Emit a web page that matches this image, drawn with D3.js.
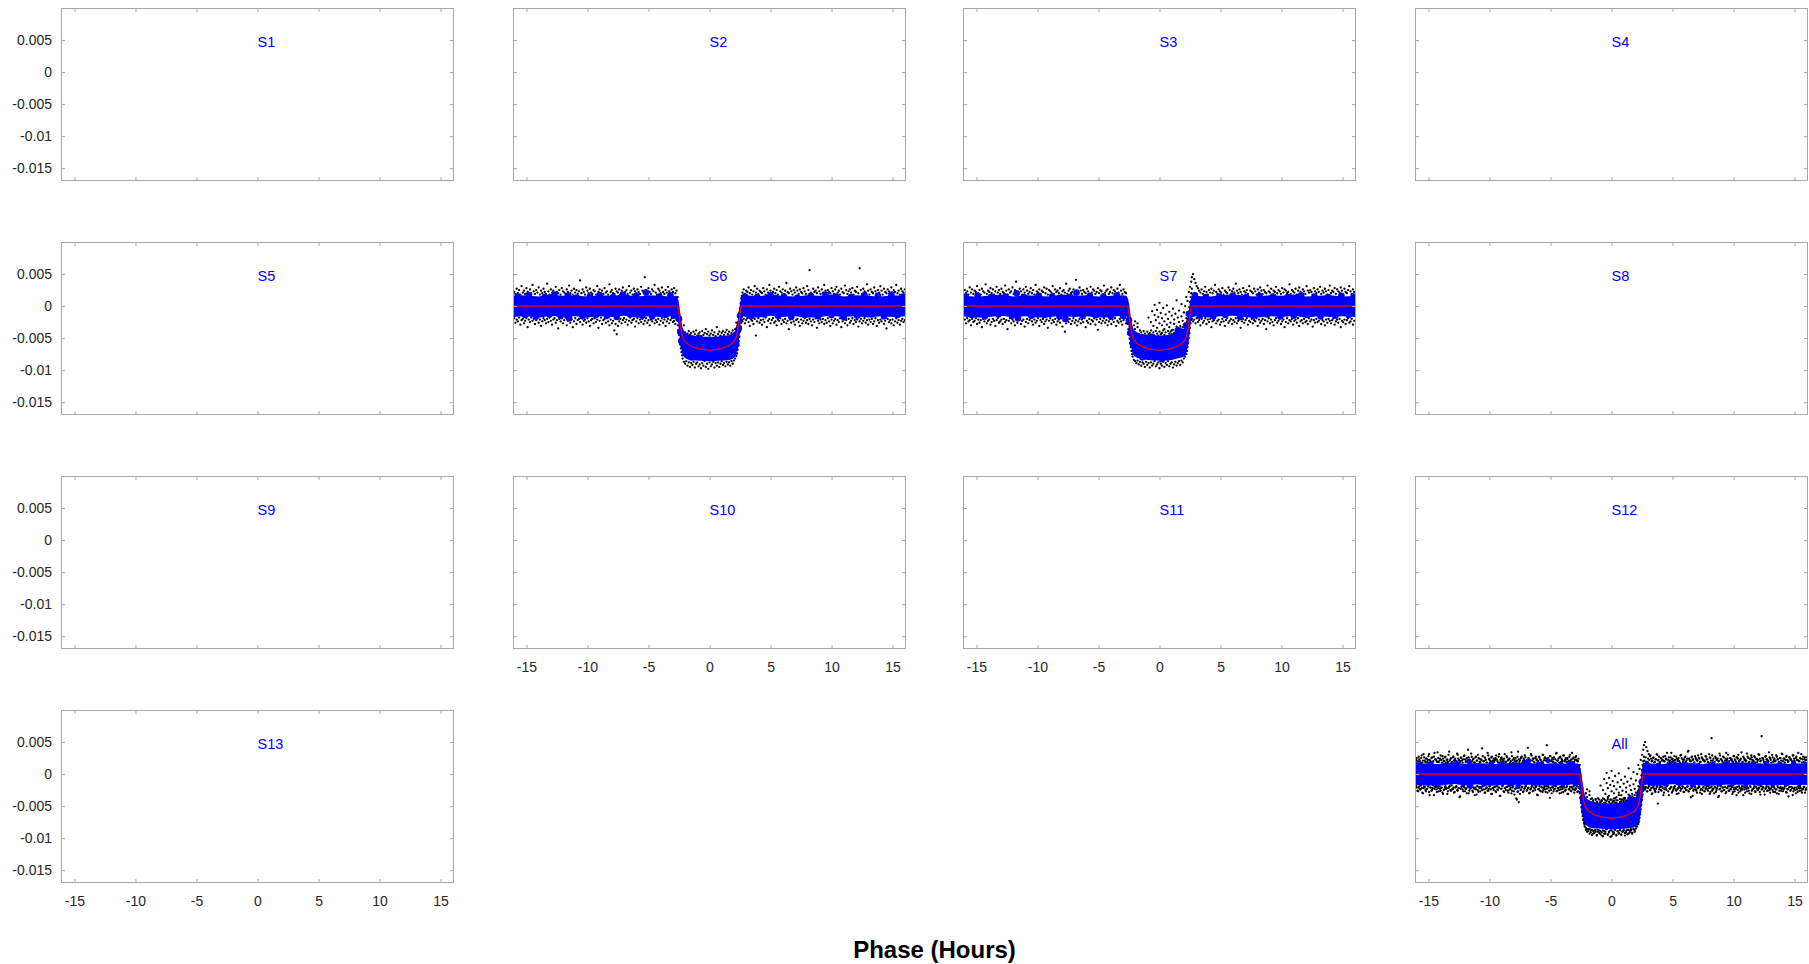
<!DOCTYPE html>
<html>
<head>
<meta charset="utf-8">
<script src="https://cdn.jsdelivr.net/npm/d3@7"></script>
<style>
  body { margin: 0; background: #fff; }
  text { font-family: "Liberation Sans", Arial, sans-serif; }
</style>
</head>
<body>
<svg id="chart" width="1809" height="964"></svg>
<script>
// panels, in reading order; "All" sits in the last cell of row 4
var sessions = ["S1", "S2", "S3", "S4", "S5", "S6", "S7", "S8", "S9", "S10", "S11", "S12", "S13", "All"];

var xTicks = [-15, -10, -5, 0, 5, 10, 15];
var xTickLabels = ["-15", "-10", "-5", "0", "5", "10", "15"];
var yTicks = [0.005, 0, -0.005, -0.01, -0.015];
var yTickLabels = ["0.005", "0", "-0.005", "-0.01", "-0.015"];

// fitted transit model (flux in units of 1e-4)
var modelPhase = [-16.1, -2.62, -2.5, -2.4, -2.3, -2.2, -2.0, -1.7, -1.3, -0.8, -0.4, 0, 0.4, 0.8, 1.3, 1.7, 2.0, 2.2, 2.3, 2.4, 2.5, 2.62, 16.1];
var modelFlux = [0, 0, -12, -27, -40, -48, -55, -60, -64, -67, -68, -69, -68, -67, -64, -60, -55, -48, -40, -27, -12, 0, 0];

// dense core of the binned (blue) points, upper / lower edge (1e-4)
var bandPhase = [-16.1, -15, -14, -13, -12, -11, -10, -9, -8, -7, -6, -5, -4, -3, -2.75,
  -2.6, -2.5, -2.4, -2.3, -2.2, -2.0, -1.6, -1.0, 0, 1.0, 1.6, 2.0, 2.2, 2.3, 2.4, 2.5, 2.6,
  2.75, 3, 4, 5, 6, 7, 8, 9, 10, 11, 12, 13, 14, 15, 16.1];
var s6Hi = [16, 17, 15, 18, 16, 17, 15, 17, 16, 18, 15, 17, 16, 15, 16,
  12, 4, -10, -24, -34, -41, -45, -47, -48, -47, -45, -41, -34, -24, -10, 4, 12,
  16, 17, 15, 18, 16, 15, 17, 16, 18, 15, 17, 16, 15, 17, 16];
var s6Lo = [-17, -16, -18, -15, -17, -16, -18, -16, -17, -15, -18, -16, -17, -16, -17,
  -20, -40, -57, -68, -76, -81, -84, -85, -86, -85, -84, -81, -76, -68, -57, -40, -20,
  -16, -17, -18, -15, -17, -16, -18, -17, -15, -17, -16, -18, -16, -17, -16];
var s7Hi = [17, 15, 16, 18, 15, 17, 16, 15, 18, 16, 17, 15, 16, 17, 16,
  12, 4, -10, -23, -32, -39, -43, -45, -46, -44, -37, -36, -29, -20, -7, 6, 13,
  17, 16, 15, 17, 18, 16, 15, 17, 16, 18, 15, 16, 17, 15, 16];
var s7Lo = [-16, -18, -17, -15, -17, -16, -18, -17, -15, -17, -16, -18, -17, -15, -16,
  -20, -40, -56, -66, -74, -79, -82, -84, -85, -84, -81, -79, -73, -65, -54, -38, -19,
  -17, -16, -18, -16, -15, -17, -18, -16, -17, -15, -18, -16, -17, -16, -17];

// individual binned points standing out of the core [phase, flux 1e-4]
var s6Blue = [[-15.7, 15], [-15.1, -14], [-14.8, 17], [-14.2, -16], [-13.5, 14], [-13.1, -13], [-12.7, 18], [-12.2, -15], [-11.6, 16], [-11.5, -19],
  [-10.9, 13], [-10.4, -16], [-9.8, 15], [-9.3, -14], [-9.0, 17], [-8.4, -15], [-7.9, 14], [-7.6, -17], [-7.1, 18], [-6.5, -13],
  [-6.0, 16], [-5.5, -15], [-5.2, 21], [-4.7, -16], [-4.1, 15], [-3.6, -14], [-3.2, 17], [-2.9, -15],
  [-2.5, -20], [-2.4, -40], [-2.3, -55], [-2.1, -62], [-1.5, -80], [-0.8, -50], [0.3, -82], [1.0, -51], [1.7, -78], [2.2, -60], [2.4, -35], [2.5, -15],
  [2.9, 15], [3.4, -16], [3.9, 14], [4.5, -13], [5.0, 17], [5.6, -15], [6.1, 15], [6.7, -17], [7.2, 13], [7.8, -14],
  [8.3, 16], [8.9, -16], [9.5, 18], [10.0, -14], [10.4, 15], [11.0, -17], [11.6, 14], [12.1, -15], [12.7, 17], [13.3, -13],
  [13.8, 16], [14.3, -16], [14.9, 18], [15.4, -14], [15.9, 15]];
var s7Blue = [[-15.9, 15], [-15.4, -14], [-14.9, 16], [-14.3, -16], [-13.8, 14], [-13.2, -13], [-12.6, 15], [-12.1, -15], [-11.7, 20], [-11.6, -19],
  [-11.1, 14], [-10.5, -15], [-9.9, 16], [-9.4, -14], [-8.8, 15], [-8.2, -16], [-7.7, -20], [-7.3, 14], [-6.8, 21], [-6.3, -15],
  [-5.7, 16], [-5.2, -14], [-4.6, 15], [-4.0, -16], [-3.5, 17], [-3.0, -15],
  [-2.5, -22], [-2.4, -42], [-2.2, -58], [-1.9, -70], [-1.4, -80], [-0.6, -48], [0.2, -83], [0.9, -76], [1.5, -38], [1.9, -40], [2.2, -30], [2.4, -12],
  [2.9, 17], [3.3, -15], [3.8, 14], [4.4, -16], [4.9, 15], [5.4, -14], [6.0, 16], [6.6, -17], [7.1, 14], [7.7, -15],
  [8.2, 16], [8.8, -13], [9.3, 15], [9.9, -16], [10.5, 14], [11.0, -15], [11.6, 17], [12.1, -14], [12.7, 15], [13.2, -16],
  [13.8, 14], [14.4, -15], [14.9, 16], [15.5, -14], [15.9, 15]];

// raw photometry: [phase, flux, flux, ...] (flux 1e-4)
var s6Rows = [
  [-16.0, 22, -19], [-15.9, 19, -26], [-15.8, 27, -21], [-15.7, 20, -24], [-15.6, 25, -18], [-15.5, 18, -29], [-15.4, 31, -22], [-15.3, 21, -20],
  [-15.2, 24, -27], [-15.1, 19, -23], [-15.0, 28, -19], [-14.9, 22, -33], [-14.8, 18, -21], [-14.7, 26, -25], [-14.6, 20, -18], [-14.5, 33, -23],
  [-14.4, 23, -20], [-14.3, 19, -28], [-14.2, 25, -22], [-14.1, 21, -19], [-14.0, 29, -26], [-13.9, 18, -21], [-13.8, 24, -31], [-13.7, 20, -24],
  [-13.6, 27, -19], [-13.5, 22, -22], [-13.4, 19, -27], [-13.3, 35, -20], [-13.2, 23, -25], [-13.1, 18, -18], [-13.0, 26, -23], [-12.9, 21, -29],
  [-12.8, 24, -21], [-12.7, 19, -19], [-12.6, 30, -26], [-12.5, 22, -22], [-12.4, 20, -35], [-12.3, 25, -20], [-12.2, 18, -24], [-12.1, 28, -19],
  [-12.0, 23, -27], [-11.9, 21, -22], [-11.8, 19, -18], [-11.7, 26, -30], [-11.6, 22, -23], [-11.5, 32, -20], [-11.4, 20, -26], [-11.3, 24, -21],
  [-11.2, 18, -33], [-11.1, 27, -24], [-11.0, 21, -19], [-10.9, 25, -28], [-10.8, 19, -22], [-10.7, 23, -20], [-10.6, 40, -25], [-10.5, 20, -18],
  [-10.4, 26, -29], [-10.3, 22, -23], [-10.2, 18, -21], [-10.1, 29, -26], [-10.0, 24, -19], [-9.9, 20, -24], [-9.8, 27, -31], [-9.7, 21, -22],
  [-9.6, 19, -20], [-9.5, 25, -27], [-9.4, 23, -19], [-9.3, 18, -25], [-9.2, 31, -21], [-9.1, 22, -34], [-9.0, 26, -23], [-8.9, 20, -18],
  [-8.8, 24, -28], [-8.7, 19, -22], [-8.6, 28, -20], [-8.5, 21, -26], [-8.4, 23, -19], [-8.3, 18, -24], [-8.2, 34, -30], [-8.1, 22, -21],
  [-8.0, 25, -27], [-7.9, 20, -23], [-7.8, 19, -38], [-7.7, 27, -28], [-7.6, 23, -44], [-7.5, 21, -31], [-7.4, 26, -24], [-7.3, 18, -20],
  [-7.2, 24, -27], [-7.1, 29, -22], [-7.0, 20, -19], [-6.9, 22, -25], [-6.8, 25, -21], [-6.7, 19, -29], [-6.6, 31, -23], [-6.5, 21, -18],
  [-6.4, 24, -26], [-6.3, 18, -22], [-6.2, 27, -20], [-6.1, 23, -32], [-6.0, 20, -24], [-5.9, 26, -19], [-5.8, 22, -27], [-5.7, 19, -21],
  [-5.6, 30, -25], [-5.5, 24, -20], [-5.4, 21, -28], [-5.3, 45, -23], [-5.2, 25, -19], [-5.1, 20, -26], [-5.0, 28, -22], [-4.9, 22, -30],
  [-4.8, 19, -21], [-4.7, 26, -24], [-4.6, 23, -19], [-4.5, 33, -27], [-4.4, 21, -22], [-4.3, 18, -25], [-4.2, 27, -20], [-4.1, 24, -29],
  [-4.0, 20, -23], [-3.9, 29, -19], [-3.8, 22, -26], [-3.7, 19, -21], [-3.6, 25, -31], [-3.5, 21, -24], [-3.4, 30, -20], [-3.3, 23, -27],
  [-3.2, 18, -22], [-3.1, 26, -19], [-3.0, 22, -25], [-2.9, 28, -23], [-2.8, 20, -28], [-2.7, 24, -21],
  [-2.65, 8, -22], [-2.6, 2, -30, 14], [-2.55, -8, -38], [-2.5, -14, -45], [-2.45, -22, -52], [-2.4, -28, -60], [-2.35, -33, -66], [-2.3, -37, -72, -48],
  [-2.25, -40, -77], [-2.2, -42, -82], [-2.1, -44, -87, -30], [-2.0, -41, -90], [-1.9, -46, -86], [-1.8, -43, -93], [-1.7, -39, -88], [-1.6, -45, -95],
  [-1.5, -42, -89], [-1.4, -47, -92], [-1.3, -40, -87], [-1.2, -44, -96], [-1.1, -38, -90], [-1.0, -46, -88], [-0.9, -43, -94], [-0.8, -41, -91],
  [-0.7, -47, -97], [-0.6, -39, -89], [-0.5, -45, -93], [-0.4, -42, -86], [-0.3, -36, -95], [-0.2, -44, -90], [-0.1, -40, -98], [0.0, -46, -88],
  [0.1, -43, -94], [0.2, -38, -91], [0.3, -45, -87], [0.4, -41, -96], [0.5, -47, -89], [0.6, -33, -93], [0.7, -44, -88], [0.8, -40, -95],
  [0.9, -46, -90], [1.0, -42, -86], [1.1, -39, -92], [1.2, -45, -89], [1.3, -41, -94], [1.4, -37, -87], [1.5, -44, -91], [1.6, -40, -88],
  [1.7, -46, -93], [1.8, -42, -86], [1.9, -38, -90], [2.0, -43, -85], [2.1, -36, -82], [2.2, -40, -78, -26], [2.25, -35, -74], [2.3, -30, -68],
  [2.35, -25, -62], [2.4, -18, -55], [2.45, -10, -48], [2.5, -4, -40], [2.55, 4, -32], [2.6, 12, -26], [2.65, 16, -22],
  [2.7, 21, -24], [2.8, 26, -20], [2.9, 19, -27], [3.0, 24, -22], [3.1, 22, -19], [3.2, 29, -25], [3.3, 20, -31], [3.4, 25, -21],
  [3.5, 18, -23], [3.6, 23, -28], [3.7, 31, -20], [3.8, 21, -46], [3.9, 27, -24], [4.0, 19, -19], [4.1, 24, -26], [4.2, 22, -22],
  [4.3, 20, -29], [4.4, 28, -21], [4.5, 23, -25], [4.6, 18, -18], [4.7, 26, -33], [4.8, 21, -23], [4.9, 33, -20], [5.0, 24, -27],
  [5.1, 19, -22], [5.2, 22, -19], [5.3, 27, -26], [5.4, 20, -24], [5.5, 25, -30], [5.6, 18, -21], [5.7, 30, -23], [5.8, 23, -19],
  [5.9, 21, -28], [6.0, 26, -22], [6.1, 19, -25], [6.2, 24, -20], [6.3, 36, -27], [6.4, 22, -23], [6.5, 20, -36], [6.6, 27, -21],
  [6.7, 23, -26], [6.8, 18, -19], [6.9, 25, -24], [7.0, 21, -29], [7.1, 29, -22], [7.2, 24, -20], [7.3, 19, -25], [7.4, 26, -31],
  [7.5, 22, -21], [7.6, 20, -27], [7.7, 28, -23], [7.8, 23, -19], [7.9, 19, -26], [8.0, 31, -22], [8.1, 25, -28], [8.2, 56, -20],
  [8.3, 21, -24], [8.4, 18, -30], [8.5, 27, -21], [8.6, 22, -25], [8.7, 24, -19], [8.8, 20, -34], [8.9, 29, -23], [9.0, 23, -27],
  [9.1, 19, -21], [9.2, 26, -25], [9.3, 21, -20], [9.4, 33, -28], [9.5, 24, -22], [9.6, 18, -26], [9.7, 25, -19], [9.8, 22, -24],
  [9.9, 20, -31], [10.0, 28, -21], [10.1, 23, -27], [10.2, 19, -23], [10.3, 26, -20], [10.4, 30, -29], [10.5, 21, -22], [10.6, 24, -25],
  [10.7, 18, -19], [10.8, 27, -33], [10.9, 22, -24], [11.0, 20, -21], [11.1, 32, -27], [11.2, 25, -22], [11.3, 19, -30], [11.4, 23, -20],
  [11.5, 26, -26], [11.6, 21, -23], [11.7, 28, -19], [11.8, 18, -28], [11.9, 24, -22], [12.0, 22, -25], [12.1, 30, -21], [12.2, 20, -32],
  [12.3, 59, -24], [12.4, 25, -20], [12.5, 19, -27], [12.6, 27, -23], [12.7, 23, -19], [12.8, 21, -26], [12.9, 34, -22], [13.0, 24, -29],
  [13.1, 18, -21], [13.2, 26, -25], [13.3, 22, -20], [13.4, 20, -28], [13.5, 29, -24], [13.6, 23, -19], [13.7, 19, -31], [13.8, 25, -22],
  [13.9, 21, -26], [14.0, 31, -21], [14.1, 24, -24], [14.2, 18, -19], [14.3, 27, -28], [14.4, 22, -23], [14.5, 20, -35], [14.6, 26, -20],
  [14.7, 23, -25], [14.8, 19, -22], [14.9, 29, -27], [15.0, 21, -21], [15.1, 25, -30], [15.2, 22, -24], [15.3, 33, -19], [15.4, 20, -26],
  [15.5, 24, -22], [15.6, 18, -29], [15.7, 27, -23], [15.8, 23, -20], [15.9, 21, -25], [16.0, 26, -22]
];
var s7Rows = [
  [-15.95, 25, -21], [-15.85, 20, -27], [-15.75, 23, -19], [-15.65, 18, -24], [-15.55, 29, -22], [-15.45, 21, -30], [-15.35, 26, -20], [-15.25, 19, -25],
  [-15.15, 24, -23], [-15.05, 22, -19], [-14.95, 31, -28], [-14.85, 20, -21], [-14.75, 25, -26], [-14.65, 18, -22], [-14.55, 27, -33], [-14.45, 23, -20],
  [-14.35, 21, -24], [-14.25, 34, -19], [-14.15, 19, -27], [-14.05, 24, -23], [-13.95, 22, -21], [-13.85, 28, -29], [-13.75, 20, -25], [-13.65, 26, -20],
  [-13.55, 18, -23], [-13.45, 23, -31], [-13.35, 30, -22], [-13.25, 21, -19], [-13.15, 25, -26], [-13.05, 19, -24], [-12.95, 27, -21], [-12.85, 22, -28],
  [-12.75, 20, -20], [-12.65, 32, -25], [-12.55, 24, -22], [-12.45, 18, -36], [-12.35, 26, -23], [-12.25, 21, -19], [-12.15, 23, -27], [-12.05, 29, -21],
  [-11.95, 19, -24], [-11.85, 25, -30], [-11.75, 38, -20], [-11.65, 22, -26], [-11.55, 20, -22], [-11.45, 27, -19], [-11.35, 23, -28], [-11.25, 18, -23],
  [-11.15, 26, -21], [-11.05, 21, -32], [-10.95, 30, -25], [-10.85, 24, -20], [-10.75, 19, -27], [-10.65, 22, -22], [-10.55, 28, -19], [-10.45, 20, -24],
  [-10.35, 25, -29], [-10.25, 18, -21], [-10.15, 33, -26], [-10.05, 23, -23], [-9.95, 21, -19], [-9.85, 26, -31], [-9.75, 19, -22], [-9.65, 24, -25],
  [-9.55, 22, -20], [-9.45, 29, -28], [-9.35, 20, -24], [-9.25, 27, -21], [-9.15, 18, -34], [-9.05, 25, -23], [-8.95, 23, -19], [-8.85, 21, -27],
  [-8.75, 31, -22], [-8.65, 19, -25], [-8.55, 26, -20], [-8.45, 22, -29], [-8.35, 24, -24], [-8.25, 20, -21], [-8.15, 28, -26], [-8.05, 18, -19],
  [-7.95, 23, -32], [-7.85, 25, -23], [-7.75, 21, -40], [-7.65, 35, -27], [-7.55, 19, -21], [-7.45, 24, -25], [-7.35, 27, -20], [-7.25, 20, -28],
  [-7.15, 22, -23], [-7.05, 26, -19], [-6.95, 18, -26], [-6.85, 41, -22], [-6.75, 23, -30], [-6.65, 21, -24], [-6.55, 29, -20], [-6.45, 24, -27],
  [-6.35, 19, -21], [-6.25, 25, -25], [-6.15, 22, -19], [-6.05, 20, -33], [-5.95, 27, -23], [-5.85, 23, -26], [-5.75, 18, -20], [-5.65, 30, -28],
  [-5.55, 21, -22], [-5.45, 26, -24], [-5.35, 24, -19], [-5.25, 19, -29], [-5.15, 22, -21], [-5.05, 28, -37], [-4.95, 20, -25], [-4.85, 25, -20],
  [-4.75, 23, -27], [-4.65, 18, -23], [-4.55, 32, -19], [-4.45, 21, -26], [-4.35, 24, -22], [-4.25, 26, -30], [-4.15, 19, -24], [-4.05, 22, -20],
  [-3.95, 29, -28], [-3.85, 20, -21], [-3.75, 25, -25], [-3.65, 23, -19], [-3.55, 18, -31], [-3.45, 27, -23], [-3.35, 21, -26], [-3.25, 33, -20],
  [-3.15, 24, -24], [-3.05, 19, -29], [-2.95, 26, -22], [-2.85, 22, -19], [-2.75, 20, -27],
  [-2.65, 9, -20], [-2.6, 3, -28], [-2.55, -6, -36], [-2.5, -13, -44], [-2.45, -20, -51], [-2.4, -27, -58], [-2.35, -31, -64], [-2.3, -35, -70],
  [-2.25, -38, -75], [-2.2, -40, -79], [-2.1, -30, -84], [-2.0, -36, -86, -24], [-1.9, -42, -89], [-1.8, -33, -85, -27], [-1.7, -44, -91], [-1.6, -38, -87],
  [-1.5, -41, -93], [-1.4, -45, -88], [-1.3, -39, -90], [-1.2, -43, -95], [-1.1, -46, -87], [-1.0, -40, -92], [-0.9, -44, -89, -18], [-0.8, -42, -96],
  [-0.7, -38, -88, -25], [-0.6, -45, -93, -8], [-0.5, -41, -90, -31], [-0.4, -47, -86, -14, 2], [-0.3, -39, -94, -22], [-0.2, -43, -91, -6, -34],
  [-0.1, -46, -88, -17], [0.0, -40, -97, -27, 5], [0.1, -44, -90, -11], [0.2, -42, -93, -30, -19], [0.3, -38, -87, -3], [0.4, -45, -95, -24, -36],
  [0.5, -41, -89, -13], [0.6, -47, -92, -29, 1], [0.7, -39, -86, -20], [0.8, -43, -94, -9, -33], [0.9, -40, -90, -26], [1.0, -44, -88, -15, -38],
  [1.1, -37, -96, -4], [1.2, -42, -91, -28, -21], [1.3, -45, -87, -12], [1.4, -38, -93, -32, 9], [1.5, -34, -89, -18], [1.6, -40, -86, -7, -25],
  [1.7, -31, -92, -35], [1.8, -37, -85, -16, 3], [1.9, -33, -88, -23], [2.0, -29, -82, -10, -38], [2.1, -34, -79, 0], [2.2, -27, -75, -19, 14],
  [2.25, -24, -70], [2.3, -20, -64, 8], [2.35, -15, -58], [2.4, -9, -50, 22], [2.45, -2, -42], [2.5, 6, -34, 30], [2.55, 14, -27], [2.6, 20, -22, 38],
  [2.65, 27, -20, 45],
  [2.75, 50, -24], [2.85, 42, -21], [2.95, 36, -27], [3.05, 31, -19], [3.15, 28, -25], [3.25, 24, -22], [3.35, 21, -30], [3.45, 26, -20],
  [3.55, 19, -26], [3.65, 23, -23], [3.75, 30, -19], [3.85, 22, -28], [3.95, 18, -21], [4.05, 25, -25], [4.15, 21, -20], [4.25, 27, -33],
  [4.35, 20, -24], [4.45, 24, -22], [4.55, 33, -19], [4.65, 22, -27], [4.75, 19, -23], [4.85, 26, -21], [4.95, 23, -29], [5.05, 21, -25],
  [5.15, 28, -20], [5.25, 18, -24], [5.35, 24, -31], [5.45, 22, -22], [5.55, 20, -19], [5.65, 29, -26], [5.75, 25, -23], [5.85, 19, -20],
  [5.95, 23, -28], [6.05, 27, -22], [6.15, 21, -25], [6.25, 35, -19], [6.35, 24, -27], [6.45, 20, -23], [6.55, 26, -21], [6.65, 22, -34],
  [6.75, 18, -24], [6.85, 28, -20], [6.95, 23, -26], [7.05, 21, -22], [7.15, 25, -19], [7.25, 19, -29], [7.35, 31, -23], [7.45, 24, -25],
  [7.55, 22, -20], [7.65, 20, -27], [7.75, 27, -22], [7.85, 23, -24], [7.95, 18, -19], [8.05, 26, -31], [8.15, 21, -21], [8.25, 29, -26],
  [8.35, 24, -23], [8.45, 19, -20], [8.55, 25, -28], [8.65, 22, -22], [8.75, 20, -36], [8.85, 32, -24], [8.95, 23, -19], [9.05, 21, -27],
  [9.15, 27, -21], [9.25, 18, -25], [9.35, 24, -30], [9.45, 22, -22], [9.55, 30, -19], [9.65, 20, -26], [9.75, 25, -23], [9.85, 23, -20],
  [9.95, 19, -28], [10.05, 28, -24], [10.15, 21, -21], [10.25, 26, -33], [10.35, 24, -25], [10.45, 20, -19], [10.55, 22, -27], [10.65, 34, -22],
  [10.75, 19, -24], [10.85, 25, -20], [10.95, 23, -29], [11.05, 21, -23], [11.15, 27, -21], [11.25, 18, -26], [11.35, 24, -19], [11.45, 29, -31],
  [11.55, 22, -24], [11.65, 20, -22], [11.75, 26, -27], [11.85, 23, -20], [11.95, 19, -25], [12.05, 31, -23], [12.15, 24, -28], [12.25, 21, -19],
  [12.35, 25, -24], [12.45, 22, -21], [12.55, 18, -32], [12.65, 28, -22], [12.75, 23, -26], [12.85, 20, -20], [12.95, 26, -25], [13.05, 22, -23],
  [13.15, 30, -19], [13.25, 19, -28], [13.35, 24, -22], [13.45, 21, -24], [13.55, 27, -30], [13.65, 23, -21], [13.75, 18, -26], [13.85, 25, -20],
  [13.95, 32, -23], [14.05, 20, -27], [14.15, 24, -22], [14.25, 22, -19], [14.35, 28, -29], [14.45, 19, -24], [14.55, 26, -21], [14.65, 23, -26],
  [14.75, 21, -20], [14.85, 29, -33], [14.95, 24, -23], [15.05, 18, -25], [15.15, 27, -21], [15.25, 22, -28], [15.35, 20, -22], [15.45, 25, -19],
  [15.55, 31, -26], [15.65, 23, -24], [15.75, 19, -20], [15.85, 26, -29], [15.95, 22, -23]
];

/////// layout

var W = 393, H = 173;
var colX = [61, 513, 963, 1415];
var rowY = [8, 242, 476, 710];
var frameColor = "#a8a8a8";
var textColor = "#262626";

var svg = d3.select("#chart");

var x = d3.scaleLinear().domain([-16.1, 16.1]).range([0, W]);
var y = d3.scaleLinear().domain([-0.017, 0.01]).range([H, 0]);

var toDots = function (rows) {
  return rows.flatMap(function (r) {
    return r.slice(1).map(function (f) { return { p: r[0], f: f * 1e-4 }; });
  });
};
var toPts = function (list) {
  return list.map(function (d) { return { p: d[0], f: d[1] * 1e-4 }; });
};
var toBand = function (hi, lo) {
  return bandPhase.map(function (p, i) { return { p: p, hi: hi[i] * 1e-4, lo: lo[i] * 1e-4 }; });
};
var model = modelPhase.map(function (p, i) { return { p: p, f: modelFlux[i] * 1e-4 }; });

var panelData = {
  S6: { dots: toDots(s6Rows), bands: [toBand(s6Hi, s6Lo)], blue: toPts(s6Blue), r: 3.3 },
  S7: { dots: toDots(s7Rows), bands: [toBand(s7Hi, s7Lo)], blue: toPts(s7Blue), r: 3.3 },
  All: {
    dots: toDots(s6Rows).concat(toDots(s7Rows)),
    bands: [toBand(s6Hi, s6Lo), toBand(s7Hi, s7Lo)],
    blue: toPts(s6Blue).concat(toPts(s7Blue)),
    r: 2.4
  }
};

var cellOf = function (name, i) {
  return name === "All" ? [3, 3] : [Math.floor(i / 4), i % 4];
};
var cells = sessions.map(cellOf);

var area = d3.area()
    .x(function (d) { return x(d.p); })
    .y0(function (d) { return y(d.lo); })
    .y1(function (d) { return y(d.hi); })
    .curve(d3.curveMonotoneX);

var line = d3.line()
    .x(function (d) { return x(d.p); })
    .y(function (d) { return y(d.f); })
    .curve(d3.curveMonotoneX);

sessions.forEach(function (name, i) {
  var row = cells[i][0], col = cells[i][1];
  var g = svg.append("g").attr("transform", "translate(" + colX[col] + "," + rowY[row] + ")");

  var clipId = "clip-" + name;
  g.append("clipPath").attr("id", clipId)
    .append("rect").attr("width", W).attr("height", H);

  var data = panelData[name];
  if (data) {
    var plot = g.append("g").attr("clip-path", "url(#" + clipId + ")");

    plot.selectAll("circle.raw")
      .data(data.dots)
      .enter().append("circle")
        .attr("class", "raw")
        .attr("cx", function (d) { return x(d.p); })
        .attr("cy", function (d) { return y(d.f); })
        .attr("r", 1.15)
        .attr("fill", "#000");

    data.bands.forEach(function (b) {
      plot.append("path").datum(b).attr("d", area).attr("fill", "#0000ff");
    });

    plot.selectAll("circle.bin")
      .data(data.blue)
      .enter().append("circle")
        .attr("class", "bin")
        .attr("cx", function (d) { return x(d.p); })
        .attr("cy", function (d) { return y(d.f); })
        .attr("r", data.r)
        .attr("fill", "#0000ff");

    plot.append("path").datum(model)
      .attr("d", line)
      .attr("fill", "none")
      .attr("stroke", "#e8001a")
      .attr("stroke-width", 1.3);
  }

  // frame
  g.append("rect")
    .attr("x", 0.5).attr("y", 0.5)
    .attr("width", W - 1).attr("height", H - 1)
    .attr("fill", "none")
    .attr("stroke", frameColor);

  var showX = !cells.some(function (c) { return c[1] === col && c[0] > row; });
  var showY = col === 0;

  var axes = [
    { ax: d3.axisBottom(x).tickValues(xTicks).tickFormat(function (d, k) { return showX ? xTickLabels[k] : ""; }).tickPadding(13), t: "translate(0," + H + ")" },
    { ax: d3.axisTop(x).tickValues(xTicks).tickFormat(""), t: "translate(0,0)" },
    { ax: d3.axisLeft(y).tickValues(yTicks).tickFormat(function (d, k) { return showY ? yTickLabels[k] : ""; }).tickPadding(9), t: "translate(0,0)" },
    { ax: d3.axisRight(y).tickValues(yTicks).tickFormat(""), t: "translate(" + W + ",0)" }
  ];
  axes.forEach(function (a) {
    var ag = g.append("g")
        .attr("transform", a.t)
        .call(a.ax.tickSizeInner(-4).tickSizeOuter(0));
    ag.select(".domain").remove();
    ag.selectAll(".tick line").attr("stroke", frameColor);
    ag.selectAll(".tick text")
        .attr("fill", textColor)
        .style("font-size", "14px")
        .style("font-family", "'Liberation Sans', Arial, sans-serif");
  });

  // session label, left edge at phase 0
  g.append("text")
    .attr("x", x(0))
    .attr("y", 39)
    .attr("fill", "#0000ff")
    .style("font-size", "14.5px")
    .text(name);
});

svg.append("text")
  .attr("x", 934.5)
  .attr("y", 958)
  .attr("text-anchor", "middle")
  .attr("fill", "#000")
  .style("font-size", "24px")
  .style("font-weight", "bold")
  .text("Phase (Hours)");
</script>
</body>
</html>
